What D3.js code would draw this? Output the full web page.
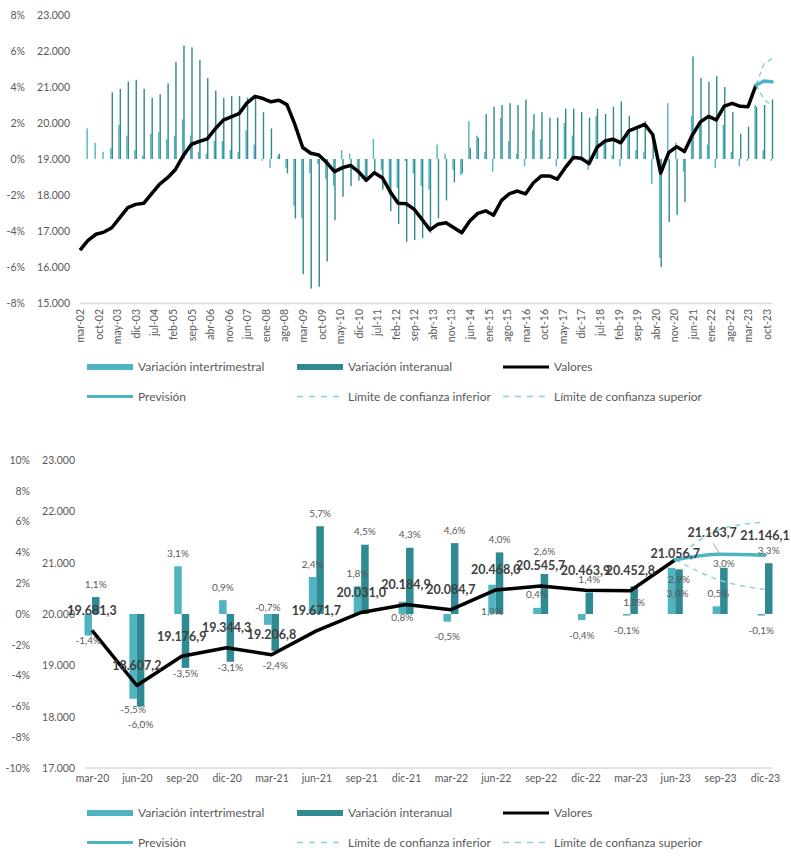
<!DOCTYPE html>
<html>
<head>
<meta charset="utf-8">
<script src="https://cdnjs.cloudflare.com/ajax/libs/d3/7.8.5/d3.min.js"></script>
<style>
  body { margin: 0; background: #fff; }
  text { font-family: Lato, "Open Sans", sans-serif; }
</style>
</head>
<body>
<svg width="791" height="860"></svg>
<script>
// Colours
var cInter = "#4fb4bf";
var cAnual = "#2f8a91";
var cPrev = "#4bb5c1";
var cLim = "#8fd0d8";
var cText = "#595959";

// Spanish month abbreviations, used to turn "mar-02" into a date
var monthsEs = ["ene","feb","mar","abr","may","jun","jul","ago","sep","oct","nov","dic"];

//---------------- data: 2002-2019 (top chart only), quarterly from mar-02
var valores0219 = [
  16470, 16740, 16910, 16970,
  17090, 17370, 17650, 17740,
  17770, 18040, 18300, 18480,
  18710, 19100, 19410, 19490,
  19560, 19840, 20080, 20170,
  20260, 20560, 20740, 20680,
  20590, 20630, 20510, 19960,
  19320, 19160, 19110, 18900,
  18650, 18760, 18820, 18650,
  18410, 18620, 18480, 18090,
  17770, 17760, 17600, 17320,
  17030, 17190, 17230, 17090,
  16950, 17280, 17490, 17560,
  17440, 17850, 18040, 18110,
  18030, 18340, 18530, 18530,
  18440, 18760, 19040, 19020,
  18870, 19320, 19500, 19550,
  19450, 19780, 19870, 19960
];
var inter0219 = [
  null, 1.7, 0.9, 0.4,
  0.6, 1.9, 1.3, 0.5,
  0.2, 1.4, 1.5, 1.1,
  1.3, 2.2, 1.3, 0.4,
  0.3, 1.0, 1.0, 0.5,
  0.4, 1.6, 0.8, -0.1,
  -0.5, 0.2, -0.5, -2.6,
  -3.3, -0.8, -0.3, -1.1,
  -1.5, 0.5, 0.3, -0.8,
  -1.3, 1.1, -0.6, -2.0,
  -1.6, -0.1, -0.8, -1.5,
  -1.7, 0.8, 0.3, -0.6,
  -0.9, 2.1, 1.3, 0.4,
  -0.7, 2.3, 1.0, 0.3,
  -0.4, 1.6, 1.1, 0.1,
  -0.4, 2.0, 1.3, -0.1,
  -0.6, 2.4, 0.9, 0.2,
  -0.4, 1.6, 0.5, 0.4
];
var anual0219 = [
  null, null, null, null,
  3.7, 3.9, 4.3, 4.4,
  3.9, 3.4, 3.6, 4.2,
  5.4, 6.3, 6.2, 5.5,
  4.5, 3.8, 3.4, 3.5,
  3.5, 3.4, 3.4, 2.6,
  1.7, 0.3, -0.8, -3.3,
  -6.4, -7.2, -7.1, -5.7,
  -3.4, -2.1, -1.5, -1.2,
  -1.2, -0.8, -1.7, -2.9,
  -3.6, -4.6, -4.5, -4.4,
  -4.1, -3.3, -2.3, -1.3,
  -0.8, 0.6, 1.2, 2.5,
  2.9, 3.0, 3.1, 3.0,
  3.3, 2.5, 2.6, 2.3,
  2.3, 2.8, 2.8, 2.6,
  2.3, 2.8, 2.5, 2.9,
  3.2, 2.4, 1.8, 2.1
];

//---------------- data: 2020-2023 (both charts)
var quarters = ["mar-20","jun-20","sep-20","dic-20","mar-21","jun-21","sep-21","dic-21",
                "mar-22","jun-22","sep-22","dic-22","mar-23","jun-23","sep-23","dic-23"];
var valores = [19681.3, 18607.2, 19176.9, 19344.3, 19206.8, 19671.7, 20031.0, 20184.9,
               20084.7, 20468.0, 20545.7, 20463.9, 20452.8, 21056.7];
var varInter = [-1.4, -5.5, 3.1, 0.9, -0.7, 2.4, 1.8, 0.8, -0.5, 1.9, 0.4, -0.4, -0.1, 3.0, 0.5, -0.1];
var varAnual = [1.1, -6.0, -3.5, -3.1, -2.4, 5.7, 4.5, 4.3, 4.6, 4.0, 2.6, 1.4, 1.8, 2.9, 3.0, 3.3];
var prevQuarters = ["jun-23","sep-23","dic-23"];
var prevision = [21056.7, 21163.7, 21146.1];
var limInf = [21056.7, 20655, 20480];
var limSup = [21056.7, 21650, 21790];

// tick labels
var topTickLabels = ["mar-02","oct-02","may-03","dic-03","jul-04","feb-05","sep-05","abr-06",
  "nov-06","jun-07","ene-08","ago-08","mar-09","oct-09","may-10","dic-10","jul-11","feb-12",
  "sep-12","abr-13","nov-13","jun-14","ene-15","ago-15","mar-16","oct-16","may-17","dic-17",
  "jul-18","feb-19","sep-19","abr-20","nov-20","jun-21","ene-22","ago-22","mar-23","oct-23"];
var topPctTicks = [-8, -6, -4, -2, 0, 2, 4, 6, 8];
var topValTicks = [15000, 16000, 17000, 18000, 19000, 20000, 21000, 22000, 23000];
var botPctTicks = [-10, -8, -6, -4, -2, 0, 2, 4, 6, 8, 10];
var botValTicks = [17000, 18000, 19000, 20000, 21000, 22000, 23000];

var legendRows = [
  [{t: "Variación intertrimestral", k: "inter"}, {t: "Variación interanual", k: "anual"}, {t: "Valores", k: "val"}],
  [{t: "Previsión", k: "prev"}, {t: "Límite de confianza inferior", k: "lim"}, {t: "Límite de confianza superior", k: "lim"}]
];

// label nudges for the bottom chart (px, relative to default spot)
var interLabelDy = {"mar-20": 5, "jun-20": 11, "mar-21": -17, "dic-21": 16, "jun-22": 27, "jun-23": 26};
var interLabelDx = {"jun-23": 6, "sep-23": 2};
var anualLabelDy = {"jun-20": 18, "sep-20": 6, "dic-20": 6, "sep-22": -22, "mar-23": 16, "jun-23": 10, "sep-23": -4};

var es = d3.formatLocale({decimal: ",", thousands: ".", grouping: [3], currency: ["", "€"], minus: "-"});
var fmtVal = es.format(",.1f");
var fmtThousands = es.format(",");
var fmtPct1 = function(v) { return es.format(".1f")(v) + "%"; };
var fmtPct0 = function(v) { return es.format("d")(v) + "%"; };

function parseLabel(s) {
  var p = s.split("-");
  return new Date(2000 + (+p[1]), monthsEs.indexOf(p[0]), 1);
}

var svg = d3.select("svg");

//================ TOP CHART
var topQDates = d3.range(valores0219.length + quarters.length).map(function(i) {
  return new Date(2002, 2 + 3 * i, 1);
});
var topVal = valores0219.concat(valores);
var topInter = inter0219.concat(varInter);
var topAnual = anual0219.concat(varAnual);

var xT = d3.scaleTime()
  .domain([topQDates[0], topQDates[topQDates.length - 1]])
  .range([80, 772]);
var yTp = d3.scaleLinear().domain([-8, 8]).range([303, 15]);
var yTv = d3.scaleLinear().domain([15000, 23000]).range([303, 15]);

var topG = svg.append("g").attr("class", "topChart");

topG.append("g")
  .attr("transform", "translate(25,0)")
  .call(d3.axisLeft(yTp).tickValues(topPctTicks).tickFormat(fmtPct0).tickSize(0).tickPadding(0))
  .call(styleAxis);
topG.append("g")
  .attr("transform", "translate(70,0)")
  .call(d3.axisLeft(yTv).tickValues(topValTicks).tickFormat(fmtThousands).tickSize(0).tickPadding(0))
  .call(styleAxis);

var xAxisT = topG.append("g")
  .attr("transform", "translate(0,303)")
  .call(d3.axisBottom(xT).tickValues(topTickLabels.map(parseLabel))
    .tickFormat(function(d, i) { return topTickLabels[i]; }).tickSize(0).tickSizeOuter(0));
xAxisT.select(".domain").attr("stroke", "#d9d9d9").attr("stroke-width", 1.5);
xAxisT.selectAll("text")
  .attr("transform", "rotate(-90)")
  .attr("x", -6).attr("y", 0).attr("dy", "0.35em")
  .attr("text-anchor", "end")
  .attr("fill", cText).attr("font-size", 10.5);

topG.append("g").selectAll("rect")
  .data(topInter.map(function(v, i) { return {v: v, d: topQDates[i]}; }).filter(function(o) { return o.v !== null; }))
  .enter().append("rect")
  .attr("x", function(o) { return xT(o.d) - 1.6; })
  .attr("width", 1.4)
  .attr("y", function(o) { return yTp(Math.max(0, o.v)); })
  .attr("height", function(o) { return Math.abs(yTp(o.v) - yTp(0)); })
  .attr("fill", cInter);

topG.append("g").selectAll("rect")
  .data(topAnual.map(function(v, i) { return {v: v, d: topQDates[i]}; }).filter(function(o) { return o.v !== null; }))
  .enter().append("rect")
  .attr("x", function(o) { return xT(o.d) - 0.2; })
  .attr("width", 1.4)
  .attr("y", function(o) { return yTp(Math.max(0, o.v)); })
  .attr("height", function(o) { return Math.abs(yTp(o.v) - yTp(0)); })
  .attr("fill", cAnual);

var lineT = d3.line()
  .x(function(d) { return xT(d.d); })
  .y(function(d) { return yTv(d.v); });

var nHist = topVal.length;
function prevPts(arr) {
  return arr.map(function(v, i) { return {d: topQDates[nHist - 1 + i], v: v}; });
}

topG.append("path").datum(topVal.map(function(v, i) { return {d: topQDates[i], v: v}; }))
  .attr("d", lineT).attr("fill", "none").attr("stroke", "#000").attr("stroke-width", 3.5)
  .attr("stroke-linejoin", "round");
[limInf, limSup].forEach(function(arr) {
  topG.append("path").datum(prevPts(arr))
    .attr("d", lineT).attr("fill", "none").attr("stroke", cLim).attr("stroke-width", 1.5)
    .attr("stroke-dasharray", "5,4");
});
topG.append("path").datum(prevPts(prevision))
  .attr("d", lineT).attr("fill", "none").attr("stroke", cPrev).attr("stroke-width", 3.5)
  .attr("stroke-linecap", "round");

drawLegend(svg.append("g"), 367);

//================ BOTTOM CHART
var xB = d3.scalePoint().domain(quarters).range([92, 765]);
var yBp = d3.scaleLinear().domain([-10, 10]).range([768, 460]);
var yBv = d3.scaleLinear().domain([17000, 23000]).range([768, 460]);
var barW = 7.5;

var botG = svg.append("g").attr("class", "bottomChart");

botG.append("g")
  .attr("transform", "translate(30,0)")
  .call(d3.axisLeft(yBp).tickValues(botPctTicks).tickFormat(fmtPct0).tickSize(0).tickPadding(0))
  .call(styleAxis);
botG.append("g")
  .attr("transform", "translate(75,0)")
  .call(d3.axisLeft(yBv).tickValues(botValTicks).tickFormat(fmtThousands).tickSize(0).tickPadding(0))
  .call(styleAxis);

botG.append("line")
  .attr("x1", xB(quarters[0]) - 7).attr("x2", xB(quarters[quarters.length - 1]) + 7)
  .attr("y1", yBp(-10)).attr("y2", yBp(-10))
  .attr("stroke", "#d9d9d9").attr("stroke-width", 1.5);

var xAxisB = botG.append("g")
  .attr("transform", "translate(0,768)")
  .call(d3.axisBottom(xB).tickSize(0).tickPadding(7));
xAxisB.select(".domain").remove();
xAxisB.selectAll("text").attr("fill", cText).attr("font-size", 10.5);

botG.append("g").selectAll("rect")
  .data(varInter)
  .enter().append("rect")
  .attr("x", function(d, i) { return xB(quarters[i]) - barW; })
  .attr("width", barW)
  .attr("y", function(d) { return yBp(Math.max(0, d)); })
  .attr("height", function(d) { return Math.abs(yBp(d) - yBp(0)); })
  .attr("fill", cInter);

botG.append("g").selectAll("rect")
  .data(varAnual)
  .enter().append("rect")
  .attr("x", function(d, i) { return xB(quarters[i]); })
  .attr("width", barW)
  .attr("y", function(d) { return yBp(Math.max(0, d)); })
  .attr("height", function(d) { return Math.abs(yBp(d) - yBp(0)); })
  .attr("fill", cAnual);

var lineB = d3.line()
  .x(function(d) { return xB(d.q); })
  .y(function(d) { return yBv(d.v); });
var curveB = d3.line()
  .x(function(d) { return xB(d.q); })
  .y(function(d) { return yBv(d.v); })
  .curve(d3.curveMonotoneX);

botG.append("path").datum(valores.map(function(v, i) { return {q: quarters[i], v: v}; }))
  .attr("d", lineB).attr("fill", "none").attr("stroke", "#000").attr("stroke-width", 3.5)
  .attr("stroke-linejoin", "round");
[limInf, limSup].forEach(function(arr) {
  botG.append("path").datum(arr.map(function(v, i) { return {q: prevQuarters[i], v: v}; }))
    .attr("d", curveB).attr("fill", "none").attr("stroke", cLim).attr("stroke-width", 1.5)
    .attr("stroke-dasharray", "5,5");
});
botG.append("path").datum(prevision.map(function(v, i) { return {q: prevQuarters[i], v: v}; }))
  .attr("d", curveB).attr("fill", "none").attr("stroke", cPrev).attr("stroke-width", 3.5)
  .attr("stroke-linecap", "round");

// percentage labels
function pctLabels(data, sign, dyMap, dxMap) {
  botG.append("g").selectAll("text")
    .data(data)
    .enter().append("text")
    .attr("x", function(d, i) {
      var q = quarters[i];
      return xB(q) + sign * barW / 2 + ((dxMap && dxMap[q]) || 0);
    })
    .attr("y", function(d, i) {
      var q = quarters[i];
      var dy = dyMap[q] !== undefined ? dyMap[q] : (d >= 0 ? -13 : 15);
      return yBp(d) + dy;
    })
    .attr("dy", "0.35em")
    .attr("text-anchor", "middle")
    .attr("font-size", 10)
    .attr("fill", cText)
    .text(fmtPct1);
}
pctLabels(varInter, -1, interLabelDy, interLabelDx);
pctLabels(varAnual, 1, anualLabelDy, null);

// value labels
var valLabels = valores.map(function(v, i) { return {q: quarters[i], v: v}; })
  .concat(prevision.slice(1).map(function(v, i) { return {q: prevQuarters[i + 1], v: v}; }));
var valDy = {"jun-23": -6, "sep-23": -22};
var valDx = {"sep-23": -8};

botG.append("line")
  .attr("x1", xB("sep-23") - 7).attr("y1", yBv(prevision[1]) - 11)
  .attr("x2", xB("sep-23")).attr("y2", yBv(prevision[1]))
  .attr("stroke", "#a6a6a6").attr("stroke-width", 1);

botG.append("g").selectAll("text")
  .data(valLabels)
  .enter().append("text")
  .attr("x", function(d) { return xB(d.q) + (valDx[d.q] || 0); })
  .attr("y", function(d) { return yBv(d.v) + (valDy[d.q] !== undefined ? valDy[d.q] : -20); })
  .attr("dy", "0.35em")
  .attr("text-anchor", "middle")
  .attr("font-size", 12.5)
  .attr("font-weight", "bold")
  .attr("fill", "#404040")
  .text(function(d) { return fmtVal(d.v); });

drawLegend(svg.append("g"), 813);

//================ helpers
function styleAxis(g) {
  g.select(".domain").remove();
  g.selectAll("text").attr("fill", cText).attr("font-size", 10.5).attr("text-anchor", "end");
}

function drawLegend(g, y0) {
  var cols = [87, 297, 503];
  legendRows.forEach(function(row, r) {
    var y = y0 + r * 29.5;
    row.forEach(function(it, c) {
      var x = cols[c];
      if (it.k === "inter" || it.k === "anual") {
        g.append("rect").attr("x", x).attr("y", y - 3).attr("width", 46).attr("height", 6)
          .attr("fill", it.k === "inter" ? cInter : cAnual);
      } else {
        g.append("line").attr("x1", x).attr("x2", x + 46).attr("y1", y).attr("y2", y)
          .attr("stroke", it.k === "val" ? "#000" : (it.k === "prev" ? cPrev : cLim))
          .attr("stroke-width", it.k === "lim" ? 1.5 : 3)
          .attr("stroke-dasharray", it.k === "lim" ? "6,6" : null);
      }
      g.append("text").attr("x", x + 51).attr("y", y).attr("dy", "0.35em")
        .attr("font-size", 12).attr("fill", cText).text(it.t);
    });
  });
}
</script>
</body>
</html>
